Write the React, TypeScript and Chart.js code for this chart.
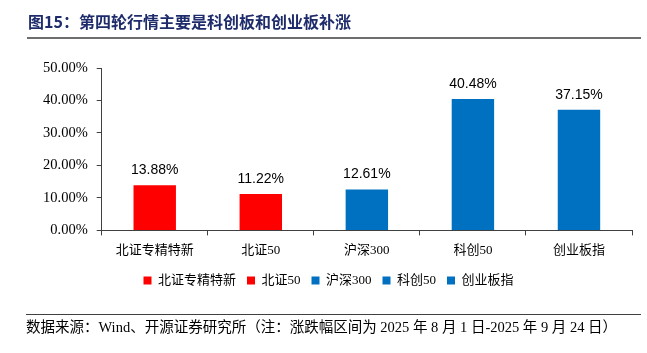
import React, { useEffect, useRef } from "react";
import { Chart, registerables } from "chart.js";

Chart.register(...registerables);

const categories = ["北证专精特新", "北证50", "沪深300", "科创50", "创业板指"];
const values = [13.88, 11.22, 12.61, 40.48, 37.15];
const barColors = ["#FF0000", "#FF0000", "#0070C0", "#0070C0", "#0070C0"];
const yTicks = [0, 10, 20, 30, 40, 50];

const titleText = "图15：第四轮行情主要是科创板和创业板补涨";
const sourceText = "数据来源：Wind、开源证券研究所（注：涨跌幅区间为 2025 年 8 月 1 日-2025 年 9 月 24 日）";

const serifCJK = '"Liberation Serif", "Noto Sans CJK SC", serif';

const valueLabelPlugin = {
  id: "valueLabels",
  afterDatasetsDraw(chart: any) {
    const ctx = chart.ctx;
    const meta = chart.getDatasetMeta(0);
    ctx.save();
    ctx.font = '14px "Liberation Sans", Arial, sans-serif';
    ctx.fillStyle = "#000";
    ctx.textAlign = "center";
    ctx.textBaseline = "bottom";
    meta.data.forEach((bar: any, i: number) => {
      ctx.fillText(values[i].toFixed(2) + "%", bar.x, bar.y - 8);
    });
    ctx.restore();
  },
};

export default function App() {
  const ref = useRef<HTMLCanvasElement | null>(null);
  useEffect(() => {
    document.body.style.margin = "0";
    const chart = new Chart(ref.current as HTMLCanvasElement, {
      type: "bar",
      data: {
        labels: categories,
        datasets: [
          {
            data: values,
            backgroundColor: barColors,
            borderWidth: 0,
            categoryPercentage: 1,
            barPercentage: 0.4,
          },
        ],
      },
      options: {
        responsive: false,
        animation: false,
        layout: { padding: { left: 25, right: 15, top: 68, bottom: 56 } },
        plugins: {
          tooltip: { enabled: false },
          legend: {
            position: "bottom",
            labels: {
              boxWidth: 8,
              boxHeight: 8,
              padding: 11,
              color: "#000",
              font: { family: serifCJK, size: 13 },
              generateLabels: () =>
                categories.map((c, i) => ({
                  text: c,
                  fillStyle: barColors[i],
                  strokeStyle: barColors[i],
                  lineWidth: 0,
                  hidden: false,
                  index: i,
                  fontColor: "#000",
                })),
            },
          },
        },
        scales: {
          x: {
            afterFit: (scale: any) => {
              scale.height -= 2;
            },
            grid: { display: true, drawOnChartArea: false, drawTicks: true, tickLength: 5, color: "#404040", offset: true },
            border: { color: "#404040", width: 1 },
            ticks: { color: "#000", padding: 7, font: { family: serifCJK, size: 13 }, maxRotation: 0 },
          },
          y: {
            min: 0,
            max: 50,
            afterFit: (scale: any) => {
              scale.width += 9;
            },
            afterBuildTicks: (axis: any) => {
              axis.ticks = yTicks.map((v) => ({ value: v }));
            },
            grid: { display: true, drawOnChartArea: false, drawTicks: true, tickLength: 5, color: "#404040" },
            border: { color: "#404040", width: 1 },
            ticks: {
              color: "#000",
              padding: 9,
              font: { family: '"Liberation Serif", "Times New Roman", serif', size: 14.5 },
              callback: (v: any) => Number(v).toFixed(2) + "%",
            },
          },
        },
      },
      plugins: [valueLabelPlugin],
    });
    return () => chart.destroy();
  }, []);

  return (
    <div style={{ position: "relative", width: 647, height: 353, background: "#fff", overflow: "hidden" }}>
      <canvas ref={ref} width={647} height={353} style={{ position: "absolute", left: 0, top: 0 }} />
      <div
        style={{
          position: "absolute",
          left: 28,
          top: 10,
          fontFamily: '"Noto Sans CJK SC", sans-serif',
          fontWeight: "bold",
          fontSize: 16,
          lineHeight: "22px",
          color: "#1F2C6B",
          whiteSpace: "nowrap",
        }}
      >
        {titleText}
      </div>
      <div style={{ position: "absolute", left: 27, top: 37, width: 614, height: 2, background: "#6E6E6E" }} />
      <div style={{ position: "absolute", left: 26, top: 314, width: 615, height: 1, background: "#404040" }} />
      <div
        style={{
          position: "absolute",
          left: 26,
          top: 317,
          fontFamily: serifCJK,
          fontSize: 14.5,
          lineHeight: "20px",
          color: "#000",
          whiteSpace: "nowrap",
        }}
      >
        {sourceText}
      </div>
    </div>
  );
}
